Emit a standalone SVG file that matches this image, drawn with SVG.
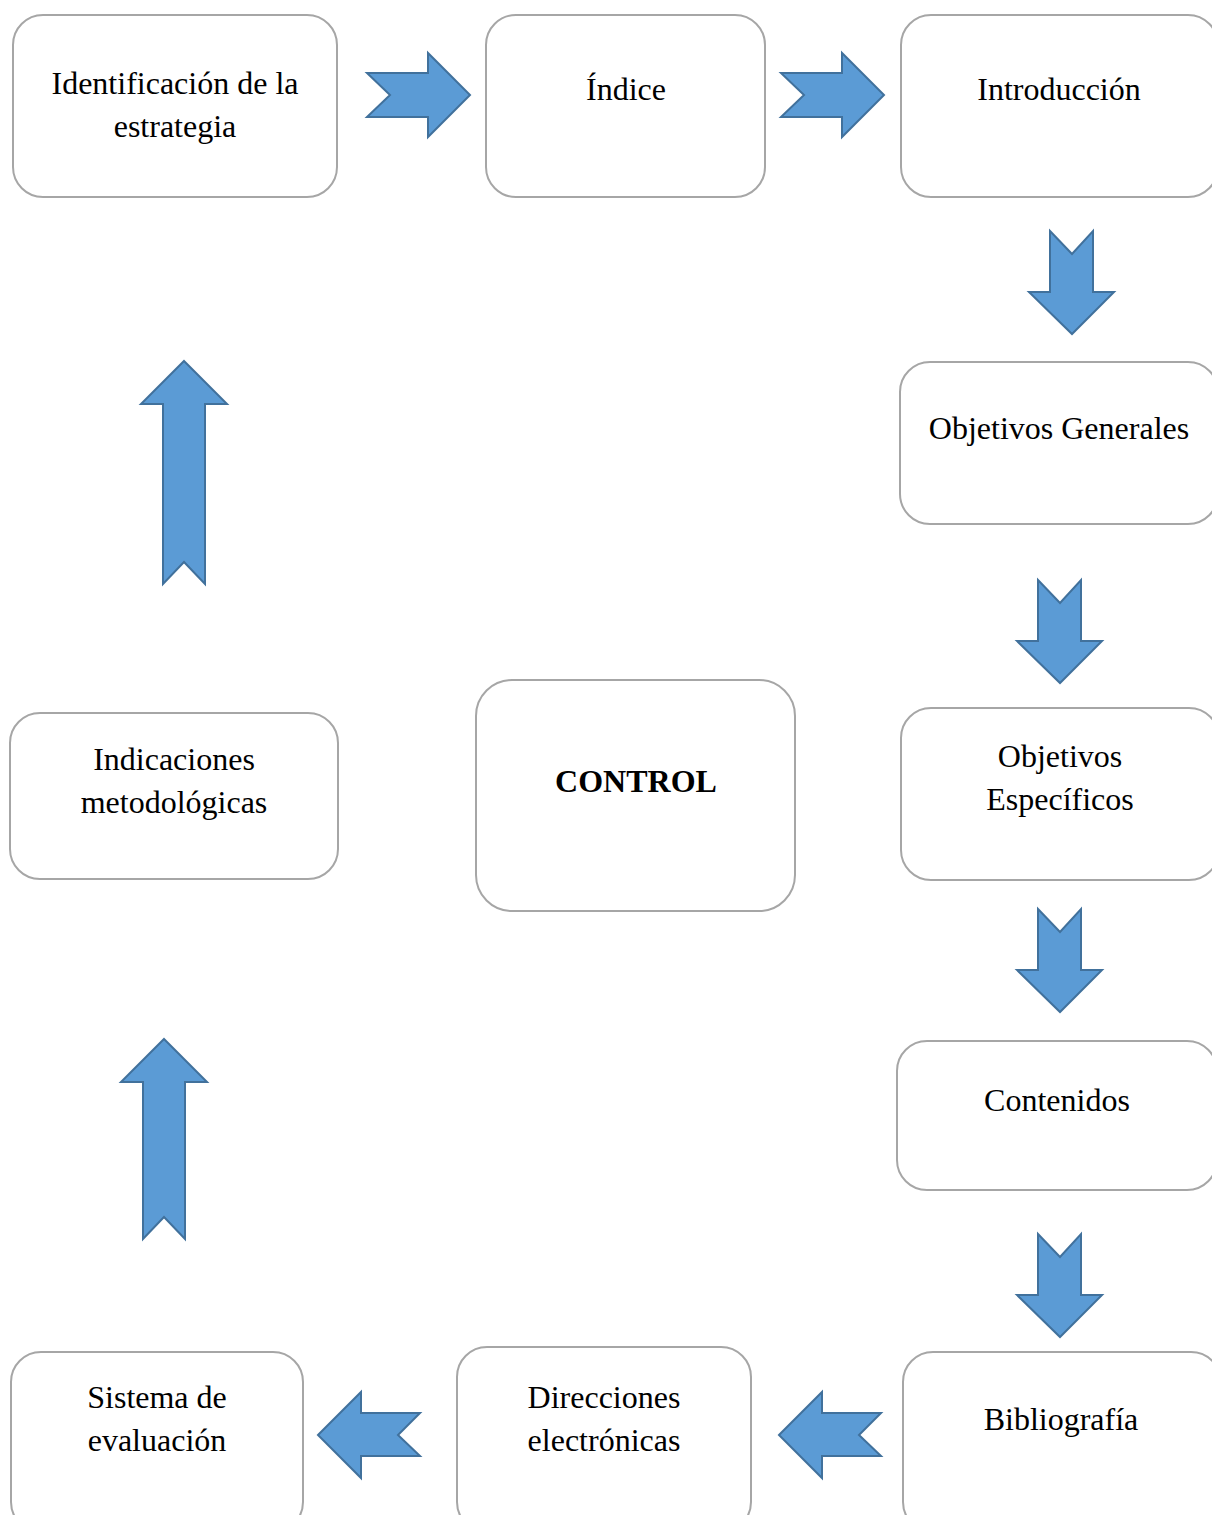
<svg xmlns="http://www.w3.org/2000/svg" width="1212" height="1515" viewBox="0 0 1212 1515">
<style>
.box{fill:#ffffff;stroke:#a6a6a6;stroke-width:2}
.t{font-family:"Liberation Serif","Times New Roman",serif;font-size:32px;fill:#000;text-anchor:middle}
.b{font-weight:bold}
.arr{fill:#5b9bd5;stroke:#41719c;stroke-width:2;stroke-linejoin:miter}
</style>
<rect width="1212" height="1515" fill="#ffffff"/>
<g id="connectors">
<polygon class="arr" points="367,73 428,73 428,53 470,95 428,137 428,117 367,117 390,95"/>
<polygon class="arr" points="781,73 842,73 842,53 884,95 842,137 842,117 781,117 804,95"/>
<polygon class="arr" points="1050,231 1072,254 1093,231 1093,292 1114,292 1072,334 1029,292 1050,292"/>
<polygon class="arr" points="1038,580 1060,603 1081,580 1081,641 1102,641 1060,683 1017,641 1038,641"/>
<polygon class="arr" points="1038,909 1060,932 1081,909 1081,970 1102,970 1060,1012 1017,970 1038,970"/>
<polygon class="arr" points="1038,1234 1060,1257 1081,1234 1081,1295 1102,1295 1060,1337 1017,1295 1038,1295"/>
<polygon class="arr" points="184,361 227,404 205,404 205,584 184,562 163,584 163,404 141,404"/>
<polygon class="arr" points="164,1039 207,1082 185,1082 185,1239 164,1217 143,1239 143,1082 121,1082"/>
<polygon class="arr" points="779,1435 822,1392 822,1413 881,1413 859,1435 881,1456 822,1456 822,1478"/>
<polygon class="arr" points="318,1435 361,1392 361,1413 420,1413 398,1435 420,1456 361,1456 361,1478"/>
</g>
<g id="n1"><rect class="box" x="13" y="15" width="324" height="182" rx="30"/><text class="t" x="175" y="94">Identificación de la</text><text class="t" x="175" y="137">estrategia</text></g>
<g id="n2"><rect class="box" x="486" y="15" width="279" height="182" rx="30"/><text class="t" x="626" y="100">Índice</text></g>
<g id="n3"><rect class="box" x="901" y="15" width="317" height="182" rx="30"/><text class="t" x="1059" y="100">Introducción</text></g>
<g id="n4"><rect class="box" x="900" y="362" width="318" height="162" rx="30"/><text class="t" x="1059" y="439">Objetivos Generales</text></g>
<g id="n5"><rect class="box" x="901" y="708" width="318" height="172" rx="30"/><text class="t" x="1060" y="767">Objetivos</text><text class="t" x="1060" y="810">Específicos</text></g>
<g id="n6"><rect class="box" x="897" y="1041" width="320" height="149" rx="30"/><text class="t" x="1057" y="1111">Contenidos</text></g>
<g id="n7"><rect class="box" x="903" y="1352" width="318" height="180" rx="30"/><text class="t" x="1061" y="1430">Bibliografía</text></g>
<g id="n8"><rect class="box" x="457" y="1347" width="294" height="185" rx="30"/><text class="t" x="604" y="1408">Direcciones</text><text class="t" x="604" y="1451">electrónicas</text></g>
<g id="n9"><rect class="box" x="11" y="1352" width="292" height="180" rx="30"/><text class="t" x="157" y="1408">Sistema de</text><text class="t" x="157" y="1451">evaluación</text></g>
<g id="n10"><rect class="box" x="10" y="713" width="328" height="166" rx="30"/><text class="t" x="174" y="770">Indicaciones</text><text class="t" x="174" y="813">metodológicas</text></g>
<g id="n11"><rect class="box" x="476" y="680" width="319" height="231" rx="36"/><text class="t b" x="636" y="792">CONTROL</text></g>
</svg>
